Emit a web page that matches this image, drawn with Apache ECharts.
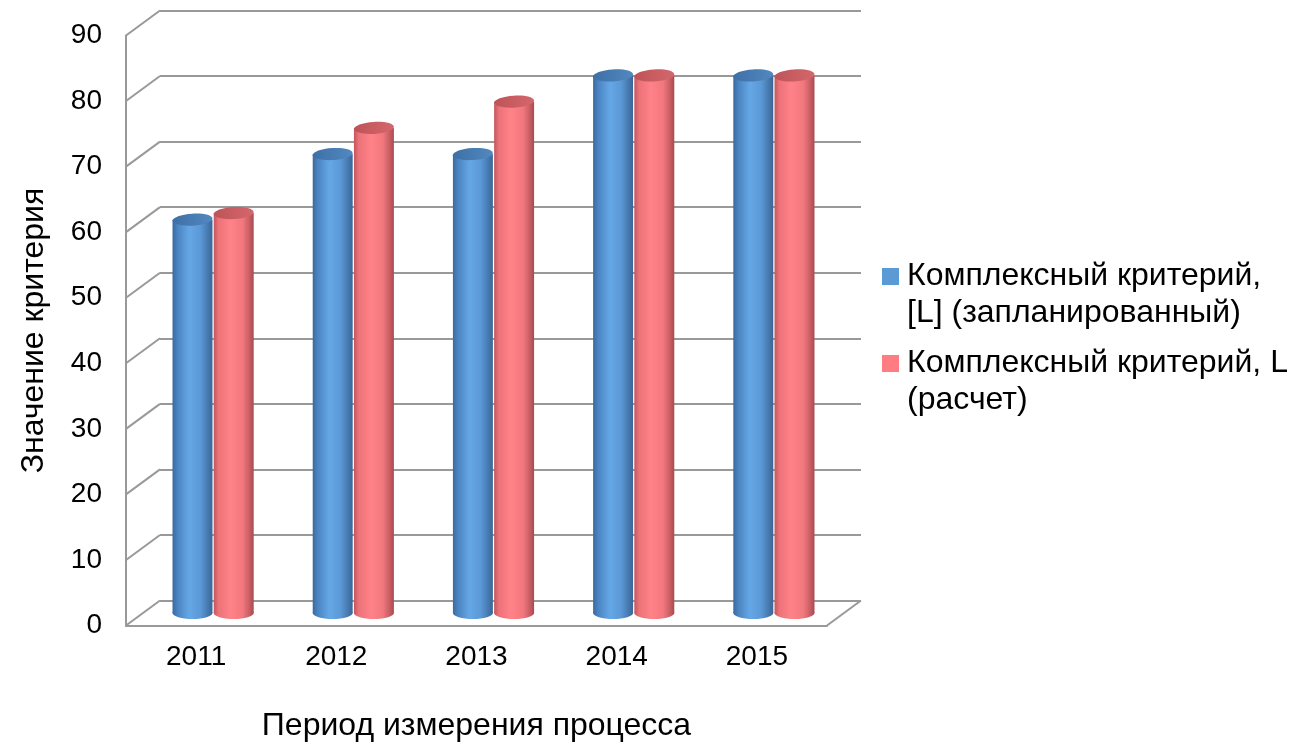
<!DOCTYPE html>
<html>
<head>
<meta charset="utf-8">
<script src="https://cdn.jsdelivr.net/npm/echarts@6/dist/echarts.min.js"></script>
<style>
html,body{margin:0;padding:0;background:#fff;}
#chart{width:1292px;height:744px;}
</style>
</head>
<body>
<div id="chart"></div>
<script>
// ---- data ----
const years = ['2011', '2012', '2013', '2014', '2015'];
const plannedName = 'Комплексный критерий,\n[L] (запланированный)';
const calcName = 'Комплексный критерий, L\n(расчет)';
const planned = [60, 70, 70, 82, 82];
const calculated = [61, 74, 78, 82, 82];
const yTicks = [0, 10, 20, 30, 40, 50, 60, 70, 80, 90];
const yAxisTitle = 'Значение критерия';
const xAxisTitle = 'Период измерения процесса';

// ---- layout / style ----
const FONT = '"Liberation Sans", Arial, sans-serif';
const DEPTH = { dx: 34, dy: -25 };
const PW = 701, PH = 590;
const FRONT = { left: 126, top: 35.5 };
const BACK = { left: FRONT.left + DEPTH.dx, top: FRONT.top + DEPTH.dy };
const MID = { left: FRONT.left + DEPTH.dx / 2, top: FRONT.top + DEPTH.dy / 2 };
const GRIDC = '#999999';

const blueBody = new echarts.graphic.LinearGradient(0, 0, 1, 0, [
  { offset: 0, color: '#396a9e' },
  { offset: 0.12, color: '#4a83c0' },
  { offset: 0.42, color: '#65a7e6' },
  { offset: 0.7, color: '#5b98d6' },
  { offset: 0.9, color: '#4477ac' },
  { offset: 1, color: '#3a6596' }
]);
const redBody = new echarts.graphic.LinearGradient(0, 0, 1, 0, [
  { offset: 0, color: '#c2565c' },
  { offset: 0.12, color: '#ec7379' },
  { offset: 0.42, color: '#ff8288' },
  { offset: 0.72, color: '#f2787e' },
  { offset: 0.9, color: '#c65d62' },
  { offset: 1, color: '#a84a4f' }
]);
const blueCap = new echarts.graphic.LinearGradient(0, 0, 1, 0, [
  { offset: 0, color: '#3d70a6' },
  { offset: 1, color: '#5288c0' }
]);
const redCap = new echarts.graphic.LinearGradient(0, 0, 1, 0, [
  { offset: 0, color: '#bd5358' },
  { offset: 1, color: '#d5676c' }
]);

function cylinder(side, body, cap) {
  return function (params, api) {
    const idx = api.value(0), v = api.value(1);
    const top = api.coord([idx, v]);
    const base = api.coord([idx, 0]);
    const band = api.size([1, 0])[0];
    const w = band * 0.285;
    const cx = top[0] + side * band * 0.147;
    const ry = 6;
    return {
      type: 'group',
      children: [
        { type: 'ellipse', shape: { cx: cx, cy: base[1], rx: w / 2, ry: ry }, style: { fill: body } },
        { type: 'rect', shape: { x: cx - w / 2, y: top[1], width: w, height: base[1] - top[1] }, style: { fill: body } },
        { type: 'ellipse', shape: { cx: cx, cy: top[1], rx: w / 2, ry: ry },
          rotation: 0.06, originX: cx, originY: top[1], style: { fill: cap } }
      ]
    };
  };
}

const legendIcon = 'path://M0,0H1V1H0Z M0,3.17H0.001V3.171H0Z';

const chart = echarts.init(document.getElementById('chart'), null, { renderer: 'canvas' });
chart.setOption({
  animation: false,
  backgroundColor: '#ffffff',
  textStyle: { fontFamily: FONT },
  grid: [
    { left: FRONT.left, top: FRONT.top, width: PW, height: PH, outerBoundsMode: 'none', containLabel: false },
    { left: BACK.left, top: BACK.top, width: PW, height: PH, outerBoundsMode: 'none', containLabel: false },
    { left: MID.left, top: MID.top, width: PW, height: PH, outerBoundsMode: 'none', containLabel: false }
  ],
  xAxis: [
    {
      gridIndex: 0, type: 'category', data: years,
      axisLine: { show: true, lineStyle: { color: GRIDC, width: 2 } },
      axisTick: { show: false },
      axisLabel: { fontSize: 28, color: '#000', margin: 18, fontFamily: FONT },
      name: xAxisTitle, nameLocation: 'middle', nameGap: 85,
      nameTextStyle: { fontSize: 32, color: '#000', fontFamily: FONT }
    },
    { gridIndex: 1, type: 'category', data: years, show: false },
    { gridIndex: 2, type: 'category', data: years, show: false }
  ],
  yAxis: [
    {
      gridIndex: 0, type: 'value', min: 0, max: 90, interval: 10,
      axisLine: { show: true, lineStyle: { color: GRIDC, width: 2 } },
      axisTick: { show: false },
      splitLine: { show: false },
      axisLabel: { fontSize: 28, color: '#000', margin: 24, fontFamily: FONT, padding: [6, 0, 0, 0] },
      name: yAxisTitle, nameLocation: 'middle', nameGap: 76, nameRotate: 90,
      nameTextStyle: { fontSize: 32, color: '#000', fontFamily: FONT }
    },
    {
      gridIndex: 1, type: 'value', min: 0, max: 90, interval: 10,
      axisLine: { show: false }, axisTick: { show: false }, axisLabel: { show: false },
      splitLine: { show: true, lineStyle: { color: GRIDC, width: 2 } }
    },
    {
      gridIndex: 2, type: 'value', min: 0, max: 90, interval: 10, show: false,
      splitLine: { show: false }
    }
  ],
  legend: {
    orient: 'vertical', left: 882, top: 258, itemGap: 13, padding: 0,
    itemWidth: 17, itemHeight: 54, selectedMode: false,
    icon: legendIcon,
    textStyle: { fontSize: 32, lineHeight: 37, color: '#000', fontFamily: FONT, padding: [0, 0, 0, 3] },
    data: [plannedName, calcName]
  },
  series: [
    {
      type: 'custom', name: 'depth', xAxisIndex: 0, yAxisIndex: 0, silent: true,
      data: yTicks.map(v => [0, v]),
      renderItem: function (params, api) {
        const y = api.coord([0, api.value(1)])[1];
        const cs = params.coordSys;
        const children = [{
          type: 'line',
          shape: { x1: cs.x, y1: y, x2: cs.x + DEPTH.dx, y2: y + DEPTH.dy },
          style: { stroke: GRIDC, lineWidth: 2 }
        }];
        if (api.value(1) === 0) {
          children.push({
            type: 'line',
            shape: { x1: cs.x + cs.width, y1: y, x2: cs.x + cs.width + DEPTH.dx, y2: y + DEPTH.dy },
            style: { stroke: GRIDC, lineWidth: 2 }
          });
        }
        return { type: 'group', children: children };
      }
    },
    {
      type: 'custom', name: plannedName, xAxisIndex: 2, yAxisIndex: 2,
      itemStyle: { color: '#5b9bd5' },
      data: planned.map((v, i) => [i, v]),
      encode: { x: 0, y: 1 },
      renderItem: cylinder(-1, blueBody, blueCap)
    },
    {
      type: 'custom', name: calcName, xAxisIndex: 2, yAxisIndex: 2,
      itemStyle: { color: '#ff7c80' },
      data: calculated.map((v, i) => [i, v]),
      encode: { x: 0, y: 1 },
      renderItem: cylinder(1, redBody, redCap)
    }
  ]
});
</script>
</body>
</html>
